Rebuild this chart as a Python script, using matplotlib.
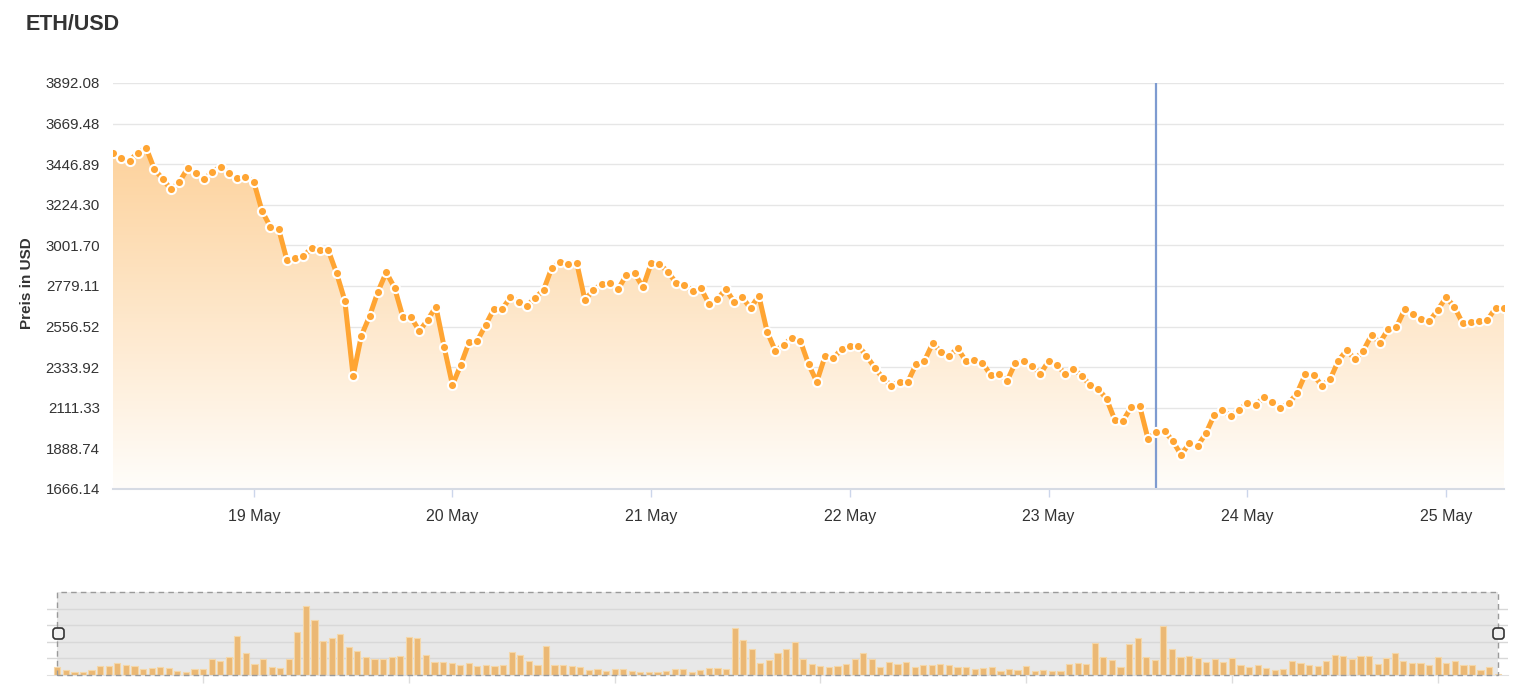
import numpy as np
import pandas as pd
import matplotlib
matplotlib.use('Agg')
import matplotlib.pyplot as plt
import matplotlib.dates as mdates
from matplotlib.patches import Polygon, Rectangle, FancyBboxPatch
from matplotlib.colors import LinearSegmentedColormap
from matplotlib.transforms import IdentityTransform

plt.rcParams['font.family'] = ['Liberation Sans', 'DejaVu Sans']

# ---------------- data ----------------
start_time = '2021-05-18 07:00'
prices = [
    3507, 3479, 3466, 3510, 3537, 3419, 3366, 3309, 3348, 3424,
    3400, 3364, 3406, 3433, 3400, 3370, 3375, 3351, 3190, 3104,
    3093, 2922, 2934, 2944, 2987, 2976, 2975, 2850, 2699, 2286,
    2507, 2615, 2748, 2854, 2770, 2611, 2608, 2532, 2593, 2666,
    2443, 2236, 2346, 2470, 2479, 2565, 2653, 2653, 2717, 2693,
    2671, 2715, 2757, 2879, 2909, 2900, 2907, 2702, 2757, 2788,
    2794, 2761, 2839, 2849, 2772, 2904, 2900, 2858, 2797, 2785,
    2753, 2767, 2680, 2706, 2763, 2693, 2717, 2657, 2726, 2529,
    2423, 2456, 2496, 2480, 2351, 2254, 2395, 2383, 2434, 2452,
    2452, 2397, 2331, 2273, 2233, 2254, 2254, 2351, 2368, 2465,
    2419, 2395, 2438, 2368, 2373, 2359, 2291, 2297, 2260, 2359,
    2370, 2342, 2297, 2368, 2346, 2297, 2324, 2287, 2236, 2214,
    2160, 2044, 2041, 2117, 2121, 1942, 1977, 1984, 1929, 1853,
    1917, 1902, 1972, 2072, 2099, 2066, 2099, 2139, 2127, 2169,
    2145, 2109, 2136, 2191, 2295, 2291, 2233, 2268, 2370, 2428,
    2377, 2424, 2510, 2468, 2542, 2553, 2651, 2624, 2597, 2587,
    2648, 2717, 2666, 2575, 2583, 2587, 2593, 2660, 2660,
]
volumes = [
    23, 15, 10, 10, 15, 26, 28, 37, 30, 28,
    17, 22, 23, 20, 11, 10, 19, 17, 48, 42,
    54, 116, 64, 34, 47, 24, 21, 46, 126, 205,
    162, 102, 109, 121, 84, 72, 54, 48, 46, 52,
    57, 112, 110, 60, 39, 39, 37, 30, 37, 27,
    30, 27, 31, 67, 60, 42, 31,
    87, 29, 29, 27, 25, 15, 18, 12, 18, 18,
    12, 9, 10, 9, 12, 18, 18, 9, 15, 20,
    22, 18, 139, 103, 77, 37, 43, 65, 76, 99,
    46, 32, 27, 23, 26, 32, 46, 64, 48, 24,
    39, 34, 38, 25, 29, 29, 33, 31, 24, 24,
    19, 21, 23, 13, 17, 15, 27,
    12, 15, 13, 13, 34, 37, 34, 96, 54, 45,
    25, 93, 111, 52, 43, 145, 77, 53, 57, 51,
    39, 46, 39, 49, 30, 24, 30, 22, 15, 19,
    42, 37, 30, 26, 42, 60, 57, 48, 57, 55,
    34, 51, 66, 42, 35, 36, 29, 52, 35, 42,
    31, 30, 15, 25, 3,
]
y_ticks = [1666.14, 1888.74, 2111.33, 2333.92, 2556.52, 2779.11,
           3001.70, 3224.30, 3446.89, 3669.48, 3892.08]
y_tick_labels = ['1666.14', '1888.74', '2111.33', '2333.92', '2556.52', '2779.11',
                 '3001.70', '3224.30', '3446.89', '3669.48', '3892.08']
x_tick_dates = ['2021-05-19', '2021-05-20', '2021-05-21', '2021-05-22',
                '2021-05-23', '2021-05-24', '2021-05-25']
x_tick_labels = ['19 May', '20 May', '21 May', '22 May', '23 May', '24 May', '25 May']
hover_time = '2021-05-23 13:00'
title = 'ETH/USD'
y_label = 'Preis in USD'
nav_grid = [49, 98, 147, 196]
nav_top = 246

# ---------------- figure ----------------
W, H = 1527, 689
fig = plt.figure(figsize=(W / 100, H / 100), dpi=100)
fig.patch.set_facecolor('white')


def rect(l, t, r, b):
    return [l / W, 1 - b / H, (r - l) / W, (b - t) / H]


times = pd.date_range(start_time, periods=len(prices), freq='h')
x = mdates.date2num(times)
hour = 1 / 24.0
ylo, yhi = y_ticks[0], y_ticks[-1]

ax = fig.add_axes(rect(113, 83, 1504, 489))
ax.set_xlim(x[0], x[-1])
ax.set_ylim(ylo, yhi)

# gradient area
verts = list(zip(x, prices)) + [(x[-1], ylo), (x[0], ylo)]
poly = Polygon(verts, closed=True, facecolor='none', edgecolor='none')
ax.add_patch(poly)
cmap = LinearSegmentedColormap.from_list('g', ['#fffdfa', '#fdd29c'])
grad = np.linspace(0, 1, 256).reshape(-1, 1)
im = ax.imshow(grad, aspect='auto', cmap=cmap, origin='lower',
               extent=[x[0], x[-1], ylo, max(prices)], zorder=1,
               interpolation='bilinear')
im.set_clip_path(poly)

# grid
ax.set_yticks(y_ticks)
ax.set_yticklabels(y_tick_labels)
for yt in y_ticks:
    ax.axhline(yt, color='#e6e6e6', lw=1, zorder=0.5)

# hover line
ax.axvline(mdates.date2num(pd.Timestamp(hover_time)), color='#7e9bd0', lw=1.6, zorder=2.5)

# series
ax.plot(x, prices, color='#ffa533', lw=3.6, zorder=3, solid_joinstyle='round')
ax.plot(x, prices, 'o', ms=6.6, mfc='#ffa533', mec='white', mew=1.5, zorder=4, lw=0)

ax.set_xticks(mdates.date2num(pd.to_datetime(x_tick_dates)))
ax.set_xticklabels(x_tick_labels)
ax.tick_params(axis='x', length=5.5, width=1, color='#ccd6eb', labelsize=11.5,
               labelcolor='#333333', pad=9)
ax.tick_params(axis='y', length=0, labelsize=10.8, labelcolor='#333333', pad=9.5)
for s in ['top', 'right', 'left']:
    ax.spines[s].set_visible(False)
ax.spines['bottom'].set_color('#d6dbe4')
ax.spines['bottom'].set_linewidth(1.5)
ax.spines['bottom'].set_zorder(5)
ax.set_facecolor('white')

fig.text(26 / W, 1 - 24 / H, title, fontsize=15.5, fontweight='bold', color='#333333',
         ha='left', va='center')
fig.text(27 / W, 1 - 283 / H, y_label, rotation=90, fontsize=11, fontweight='bold',
         color='#333333', ha='center', va='center')

# ---------------- navigator ----------------
ax2 = fig.add_axes(rect(47, 592, 1508, 675))
ax2.set_xlim(x[0] - 1.2 * hour, x[-1] + 1.2 * hour)
ax2.set_ylim(0, nav_top)
ax2.add_patch(Rectangle((x[0], 0), x[-1] - x[0], nav_top, facecolor='#e8e8e8',
                        edgecolor='none', zorder=0))
for g in nav_grid:
    ax2.axhline(g, color='#d8d8d8', lw=1, zorder=0.5)
ax2.bar(x, volumes, width=0.72 * hour, color='#ebb874', edgecolor='#f5d7a8', lw=0.8,
        zorder=2)
ax2.add_patch(Rectangle((x[0], 0), x[-1] - x[0], nav_top, facecolor='none',
                        edgecolor='#9a9a9a', lw=1, linestyle=(0, (4, 3)), zorder=3,
                        clip_on=False))
ax2.set_xticks(mdates.date2num(pd.to_datetime(x_tick_dates)))
ax2.set_xticklabels([])
ax2.tick_params(axis='x', length=6, color='#dddddd', width=1)
ax2.set_yticks([])
for s in ['top', 'right', 'left']:
    ax2.spines[s].set_visible(False)
ax2.spines['bottom'].set_color('#e0e0e0')
ax2.set_facecolor('white')

# handles (display pixel coordinates)
for cx in (58.5, 1498.5):
    hpatch = FancyBboxPatch((cx - 5.5, H - 633.5 - 5.5), 11, 11,
                            boxstyle='round,pad=0,rounding_size=3',
                            facecolor='#f2f2f2', edgecolor='#333333', lw=1.2,
                            transform=IdentityTransform(), zorder=10)
    fig.add_artist(hpatch)

fig.savefig('out.png', dpi=100)
